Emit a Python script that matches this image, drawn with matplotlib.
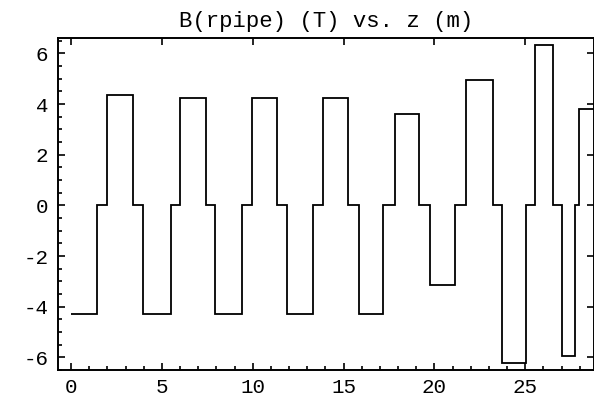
import matplotlib
matplotlib.use('Agg')
import matplotlib.pyplot as plt
from matplotlib.ticker import MultipleLocator

# step edges in z (m) and field value on each step (T)
z_edges = [0, 1.41, 2.0, 3.39, 3.98, 5.49, 6.0, 7.41, 7.93, 9.39, 9.98, 11.32,
           11.9, 13.30, 13.89, 15.27, 15.85, 17.19, 17.83, 19.17, 19.76, 21.13,
           21.72, 23.21, 23.70, 25.04, 25.54, 26.51, 27.0, 27.76, 27.97, 29.5]
b_values = [-4.3, 0, 4.35, 0, -4.3, 0, 4.25, 0, -4.3, 0, 4.25, 0,
            -4.3, 0, 4.25, 0, -4.3, 0, 3.62, 0, -3.15, 0,
            4.95, 0, -6.24, 0, 6.34, 0, -5.95, 0, 3.80]

x_ticks = [0, 5, 10, 15, 20, 25]
y_ticks = [-6, -4, -2, 0, 2, 4, 6]

mono = 'Liberation Mono'

fig = plt.figure(figsize=(5.94, 3.97), dpi=100)
ax = fig.add_axes([58/594, 27/397, 536/594, 332/397])

ax.stairs(b_values, z_edges, baseline=None, color='black', linewidth=1.3)

ax.set_xlim(-0.715, 28.78)
ax.set_ylim(-6.50, 6.61)

ax.set_xticks(x_ticks)
ax.set_yticks(y_ticks)
ax.set_xticklabels([str(v) for v in x_ticks], fontfamily=mono, fontsize=15)
ax.set_yticklabels([str(v) for v in y_ticks], fontfamily=mono, fontsize=15)
ax.xaxis.set_minor_locator(MultipleLocator(1))
ax.yaxis.set_minor_locator(MultipleLocator(0.5))

ax.tick_params(which='both', direction='in', width=1.2, colors='black')
ax.tick_params(which='major', length=5)
ax.tick_params(which='minor', length=3)
ax.tick_params(axis='x', which='major', pad=6, top=True)
ax.tick_params(axis='y', which='major', pad=7, right=True)
ax.tick_params(axis='x', which='minor', top=False)
ax.tick_params(axis='y', which='minor', right=False)

for s in ax.spines.values():
    s.set_linewidth(1.4)

ax.set_title('B(rpipe) (T) vs. z (m)', fontfamily=mono, fontsize=16, pad=8)

fig.savefig('out.png', dpi=100)
